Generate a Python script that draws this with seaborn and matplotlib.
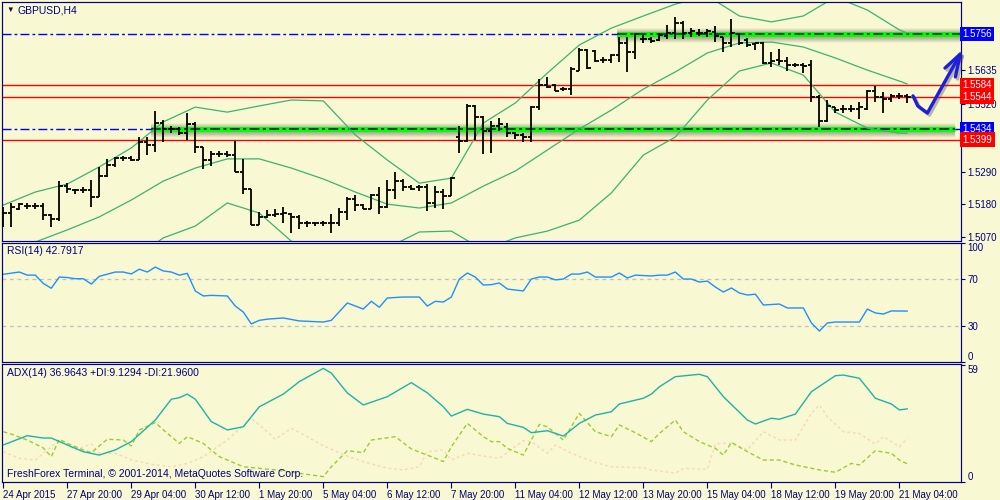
import numpy as np
import pandas as pd
import matplotlib
matplotlib.use('Agg')
import matplotlib.pyplot as plt
import matplotlib.transforms as mtransforms
import seaborn as sns

# GBPUSD H4 bars, 24 Apr - 21 May 2015
opens = [1.5144, 1.5151, 1.5165, 1.5175, 1.5175, 1.5175, 1.5144, 1.5131, 1.5242, 1.5229,
         1.5229, 1.5229, 1.5205, 1.5276, 1.5313, 1.5337, 1.5337, 1.5330, 1.5391, 1.5381,
         1.5455, 1.5435, 1.5435, 1.5421, 1.5452, 1.5374, 1.5330, 1.5350, 1.5350, 1.5347,
         1.5290, 1.5232, 1.5111, 1.5138, 1.5144, 1.5148, 1.5148, 1.5138, 1.5117, 1.5117,
         1.5117, 1.5117, 1.5117, 1.5154, 1.5198, 1.5178, 1.5165, 1.5212, 1.5171, 1.5229,
         1.5259, 1.5239, 1.5239, 1.5239, 1.5185, 1.5222, 1.5209, 1.5408, 1.5394, 1.5513,
         1.5476, 1.5428, 1.5445, 1.5442, 1.5421, 1.5415, 1.5408, 1.5509, 1.5584, 1.5584,
         1.5570, 1.5570, 1.5631, 1.5702, 1.5699, 1.5668, 1.5668, 1.5685, 1.5726, 1.5695,
         1.5739, 1.5739, 1.5736, 1.5749, 1.5759, 1.5793, 1.5759, 1.5759, 1.5759, 1.5763,
         1.5746, 1.5726, 1.5756, 1.5736, 1.5722, 1.5726, 1.5658, 1.5668, 1.5665, 1.5651,
         1.5651, 1.5651, 1.5543, 1.5462, 1.5509, 1.5503, 1.5503, 1.5503, 1.5503, 1.5563,
         1.5543, 1.5536, 1.5547, 1.5547]
highs = [1.5171, 1.5185, 1.5185, 1.5185, 1.5185, 1.5185, 1.5148, 1.5259, 1.5252, 1.5232,
         1.5239, 1.5263, 1.5307, 1.5334, 1.5340, 1.5344, 1.5344, 1.5408, 1.5408, 1.5496,
         1.5465, 1.5445, 1.5442, 1.5489, 1.5459, 1.5374, 1.5361, 1.5361, 1.5361, 1.5394,
         1.5334, 1.5232, 1.5154, 1.5161, 1.5165, 1.5171, 1.5151, 1.5144, 1.5124, 1.5121,
         1.5124, 1.5148, 1.5168, 1.5205, 1.5212, 1.5181, 1.5215, 1.5239, 1.5263, 1.5290,
         1.5266, 1.5246, 1.5246, 1.5249, 1.5242, 1.5232, 1.5273, 1.5445, 1.5519, 1.5516,
         1.5479, 1.5462, 1.5472, 1.5455, 1.5425, 1.5421, 1.5513, 1.5604, 1.5611, 1.5587,
         1.5577, 1.5645, 1.5709, 1.5705, 1.5702, 1.5678, 1.5688, 1.5746, 1.5746, 1.5759,
         1.5753, 1.5746, 1.5759, 1.5787, 1.5814, 1.5800, 1.5776, 1.5773, 1.5773, 1.5783,
         1.5746, 1.5807, 1.5759, 1.5743, 1.5726, 1.5729, 1.5695, 1.5705, 1.5678, 1.5658,
         1.5658, 1.5668, 1.5550, 1.5533, 1.5509, 1.5516, 1.5516, 1.5526, 1.5567, 1.5580,
         1.5560, 1.5553, 1.5557, 1.5553]
lows = [1.5104, 1.5104, 1.5161, 1.5165, 1.5165, 1.5127, 1.5104, 1.5124, 1.5219, 1.5215,
        1.5219, 1.5171, 1.5205, 1.5273, 1.5307, 1.5327, 1.5327, 1.5330, 1.5347, 1.5357,
        1.5391, 1.5421, 1.5415, 1.5398, 1.5354, 1.5300, 1.5310, 1.5340, 1.5340, 1.5290,
        1.5215, 1.5111, 1.5111, 1.5134, 1.5138, 1.5117, 1.5083, 1.5097, 1.5104, 1.5107,
        1.5107, 1.5083, 1.5107, 1.5127, 1.5158, 1.5165, 1.5165, 1.5148, 1.5168, 1.5198,
        1.5225, 1.5229, 1.5225, 1.5158, 1.5168, 1.5165, 1.5209, 1.5354, 1.5391, 1.5398,
        1.5350, 1.5354, 1.5428, 1.5408, 1.5401, 1.5391, 1.5391, 1.5499, 1.5574, 1.5563,
        1.5563, 1.5550, 1.5631, 1.5638, 1.5661, 1.5658, 1.5658, 1.5661, 1.5628, 1.5672,
        1.5726, 1.5726, 1.5732, 1.5739, 1.5739, 1.5739, 1.5746, 1.5749, 1.5746, 1.5729,
        1.5695, 1.5712, 1.5719, 1.5712, 1.5702, 1.5655, 1.5645, 1.5651, 1.5631, 1.5645,
        1.5624, 1.5526, 1.5442, 1.5459, 1.5489, 1.5489, 1.5492, 1.5469, 1.5499, 1.5526,
        1.5489, 1.5526, 1.5536, 1.5523]
closes = [1.5151, 1.5171, 1.5181, 1.5175, 1.5175, 1.5144, 1.5131, 1.5242, 1.5232, 1.5229,
          1.5229, 1.5205, 1.5276, 1.5313, 1.5337, 1.5337, 1.5330, 1.5391, 1.5381, 1.5455,
          1.5435, 1.5435, 1.5421, 1.5452, 1.5374, 1.5330, 1.5350, 1.5350, 1.5347, 1.5290,
          1.5232, 1.5111, 1.5138, 1.5144, 1.5148, 1.5151, 1.5138, 1.5117, 1.5117, 1.5117,
          1.5117, 1.5117, 1.5154, 1.5198, 1.5178, 1.5165, 1.5212, 1.5171, 1.5229, 1.5259,
          1.5239, 1.5232, 1.5239, 1.5185, 1.5222, 1.5209, 1.5269, 1.5394, 1.5513, 1.5476,
          1.5428, 1.5445, 1.5452, 1.5421, 1.5415, 1.5408, 1.5509, 1.5584, 1.5577, 1.5563,
          1.5570, 1.5638, 1.5702, 1.5641, 1.5665, 1.5668, 1.5685, 1.5726, 1.5695, 1.5756,
          1.5739, 1.5732, 1.5753, 1.5759, 1.5793, 1.5759, 1.5766, 1.5759, 1.5766, 1.5749,
          1.5726, 1.5759, 1.5726, 1.5719, 1.5726, 1.5658, 1.5665, 1.5665, 1.5651, 1.5651,
          1.5648, 1.5543, 1.5462, 1.5513, 1.5499, 1.5503, 1.5503, 1.5509, 1.5563, 1.5543,
          1.5536, 1.5547, 1.5547, 1.5543]

# Bollinger bands, read every 4th bar
band_idx = [0, 4, 8, 12, 16, 20, 24, 28, 32, 36, 40, 44, 48, 52, 56, 60, 64, 68, 72, 76,
            80, 84, 88, 92, 96, 100, 104, 108, 112, 113]
bb_upper = [1.5178, 1.5222, 1.5249, 1.5307, 1.5371, 1.5459, 1.5509, 1.5492, 1.5513, 1.5533,
            1.5530, 1.5415, 1.5330, 1.5252, 1.5269, 1.5455, 1.5523, 1.5624, 1.5719, 1.5776,
            1.5817, 1.5857, 1.5885, 1.5817, 1.5797, 1.5817, 1.5881, 1.5837, 1.5770, 1.5759]
bb_middle = [1.5019, 1.5053, 1.5094, 1.5138, 1.5195, 1.5259, 1.5303, 1.5334, 1.5334, 1.5303,
             1.5266, 1.5222, 1.5181, 1.5168, 1.5185, 1.5242, 1.5293, 1.5364, 1.5435, 1.5499,
             1.5570, 1.5628, 1.5692, 1.5726, 1.5729, 1.5712, 1.5675, 1.5634, 1.5597, 1.5587]
bb_lower = [1.4990, 1.4990, 1.4990, 1.4990, 1.4990, 1.5067, 1.5107, 1.5185, 1.5151, 1.5056,
            1.4999, 1.4985, 1.5033, 1.5087, 1.5090, 1.5026, 1.5067, 1.5090, 1.5127, 1.5219,
            1.5347, 1.5408, 1.5533, 1.5631, 1.5658, 1.5617, 1.5492, 1.5438, 1.5421, 1.5421]

rsi_idx = [0, 2, 3, 4, 5, 6, 7, 8, 9, 10, 11, 12, 14, 15, 16, 17, 18, 19, 20, 21,
           22, 23, 24, 25, 26, 28, 29, 30, 31, 32, 33, 35, 37, 40, 41, 43, 45, 46, 47, 48,
           50, 52, 53, 54, 55, 56, 57, 58, 59, 60, 61, 62, 63, 65, 66, 67, 68, 69, 70, 71,
           72, 73, 74, 76, 77, 78, 79, 81, 82, 83, 84, 85, 86, 87, 88, 89, 90, 91, 92, 93,
           94, 95, 97, 98, 100, 101, 102, 103, 104, 107, 108, 109, 110, 111, 113]
rsi_vals = [73.7, 75.6, 73, 73, 66, 62, 71.4, 71, 70, 70, 65.5, 72, 75.6, 75.6, 74, 78, 75.6, 79.8, 76.5, 75.6,
            73, 74.5, 59.7, 55.5, 56, 55.5, 47, 42, 32, 35, 36, 37, 34.5, 33.6, 35, 49.6, 44.5, 51, 46, 53.8,
            54.6, 54.6, 47, 51, 50.4, 54.6, 69.7, 74.8, 71.4, 64.7, 65, 66.4, 61.3, 59.7, 69.7, 71.4, 71.4, 69, 69.7, 73.9,
            73.9, 75.6, 71.4, 71.4, 74.8, 70.6, 73, 72.3, 73, 73, 75.6, 69.7, 69.7, 67.2, 68, 63, 58.8, 62.2, 58, 56.3,
            57, 47.9, 48.7, 45.4, 45.4, 32.8, 26, 32.8, 33.6, 33.6, 44.5, 41.2, 40.3, 42.9, 42.79]

adx_idx = [0, 3, 5, 6, 8, 10, 12, 14, 16, 19, 21, 22, 23, 24, 26, 28, 30, 32, 35, 37,
           40, 41, 43, 45, 48, 51, 53, 55, 56, 58, 60, 62, 63, 65, 66, 68, 70, 72, 74, 76,
           77, 80, 81, 82, 84, 87, 88, 90, 93, 94, 96, 97, 99, 101, 104, 105, 107, 109, 111, 112, 113]
adx_vals = [18.7, 23.4, 22.2, 22.2, 18.7, 15.3, 13.6, 16.2, 20.4, 31.3, 41.8, 42.6, 44.4, 41.8, 30.5, 26.3, 27.9, 38, 44.4, 50.7,
            57.4, 55, 45, 38.9, 43.1, 50.2, 45, 38, 33.3, 36.7, 34.3, 33, 29.6, 27.6, 24.9, 25.9, 23.2, 29.6, 33.8, 35.5,
            39.4, 42.3, 44.4, 48.1, 53.2, 54.4, 53.2, 43.1, 31.3, 29.3, 32.2, 31.7, 34.3, 45.6, 53.7, 54, 52.4, 42.3, 39.4, 36.4, 36.96]

pdi_idx = [0, 1, 3, 5, 6, 7, 8, 10, 11, 13, 15, 16, 17, 19, 20, 22, 23, 25, 27, 30,
           34, 37, 40, 41, 43, 45, 46, 49, 51, 54, 55, 56, 58, 60, 61, 62, 63, 65, 66, 67,
           68, 70, 72, 74, 76, 77, 79, 81, 82, 84, 85, 87, 89, 90, 91, 93, 95, 97, 99, 102,
           104, 106, 107, 109, 111, 112, 113]
pdi_vals = [25.4, 24.2, 21.2, 17.2, 12.8, 21.6, 19.5, 16.2, 14.8, 21.6, 21.2, 18.2, 26.3, 30, 26.3, 19.5, 22.9, 19.5, 12.8, 7.7,
            6.1, 4.4, 2.7, 7.7, 15.8, 14.8, 21.2, 22.9, 16.7, 12, 10.3, 17.8, 29.6, 22.9, 20.4, 20.4, 17, 13.6, 21.2, 29.1,
            27.9, 21.2, 34.7, 25.4, 22.9, 28.8, 24.9, 20.4, 24.5, 31.3, 25.4, 20.4, 17, 13.6, 20, 15.3, 11.1, 11.1, 8.6, 6.1,
            4.9, 9.4, 8.6, 15.8, 14.5, 11.1, 9.13]

mdi_idx = [0, 2, 4, 5, 7, 9, 11, 12, 14, 16, 19, 21, 23, 25, 28, 31, 33, 34, 36, 38,
           40, 43, 45, 48, 50, 52, 53, 55, 56, 58, 60, 62, 65, 66, 68, 69, 71, 74, 76, 80,
           81, 84, 85, 88, 89, 91, 93, 95, 97, 99, 101, 102, 103, 105, 107, 109, 110, 112, 113]
mdi_vals = [15.3, 12, 11.1, 14.5, 21.2, 16.2, 19.2, 14.5, 14.5, 11.1, 8.6, 7.7, 9.4, 12.8, 21.2, 32.2, 25.4, 21.6, 27.1, 22.9,
            18.3, 13.1, 10.3, 7, 6.1, 7.7, 15.3, 16.2, 11.1, 14.5, 13.1, 12, 20.9, 20.4, 14.5, 18.7, 14.5, 9.8, 7.7, 7.2,
            6.1, 4.4, 6.9, 6.4, 19.2, 19.8, 16.2, 25.4, 21.2, 21.2, 34.7, 38.9, 33, 25.4, 24.5, 19.2, 22.9, 17.8, 21.96]

date_labels = ['24 Apr 2015', '27 Apr 20:00', '29 Apr 04:00', '30 Apr 12:00', '1 May 20:00',
               '5 May 04:00', '6 May 12:00', '7 May 20:00', '11 May 04:00', '12 May 12:00',
               '13 May 20:00', '15 May 04:00', '18 May 12:00', '19 May 20:00', '21 May 04:00']
price_ticks = [1.5070, 1.5180, 1.5290, 1.5520, 1.5635]

support_levels = [1.5756, 1.5434]      # blue dash-dot, green zone
support_from = [76.7, 18.5]            # bar index where the green zone starts
support_to = [119.7, 119.0]
resist_levels = [1.5584, 1.5544, 1.5399]

arrow_x = [113.7, 114.3, 115.5, 119.6]
arrow_y = [1.5547, 1.5513, 1.5489, 1.5688]
head_x = [117.7, 119.6, 119.0]
head_y = [1.5641, 1.5688, 1.5611]

BG = '#F8F8D3'
NAVY = '#000080'
PX = 0.000338  # price per pixel on the main panel

sns.set_theme(style='white')
plt.rcParams['font.family'] = ['Liberation Sans', 'DejaVu Sans']

fig = plt.figure(figsize=(10, 5), dpi=100, facecolor=BG)
ax_p = fig.add_axes([0.002, 0.518, 0.959, 0.478])
ax_r = fig.add_axes([0.002, 0.276, 0.959, 0.238])
ax_a = fig.add_axes([0.002, 0.036, 0.959, 0.236])

for ax in (ax_p, ax_r, ax_a):
    ax.set_facecolor(BG)
    for s in ax.spines.values():
        s.set_color(NAVY)
        s.set_linewidth(0.85)
    ax.set_xlim(-0.16, 119.7)
    ax.yaxis.tick_right()
    ax.tick_params(axis='y', length=3, width=0.8, pad=1.5, labelsize=7,
                   colors=NAVY, right=True, left=False)

# ---- main price panel ----
ax_p.set_ylim(1.50565, 1.58642)
ax_p.set_yticks(price_ticks, labels=['%.4f' % v for v in price_ticks])
ax_p.set_xticks([])

for lv in support_levels:
    ax_p.axhline(lv, color='#0000FF', lw=1, ls=(0, (6.5, 2.2, 2, 2.2)), zorder=1.2)
for lv in resist_levels:
    ax_p.axhline(lv, color='#FF0000', lw=1, zorder=1.2)

for lv, x0, x1 in zip(support_levels, support_from, support_to):
    for k in range(1, 9):
        ax_p.hlines(lv - k * PX, x0, x1, color='#3a3a28', alpha=0.45 * (1 - k / 9),
                    lw=1.1, zorder=1.3)
    for k in range(1, 6):
        ax_p.hlines(lv + k * PX, x0, x1, color='#3a3a28', alpha=0.32 * (1 - k / 6),
                    lw=1.1, zorder=1.3)
    ax_p.hlines(lv, x0, x1, color='#00FF00', lw=3.6, zorder=1.4)
    ax_p.hlines(lv, x0, x1, color='#10104a', lw=1.1,
                linestyles=[(0, (6.5, 2.2, 2, 2.2))], zorder=1.5)

for band in (bb_upper, bb_middle, bb_lower):
    sns.lineplot(x=band_idx, y=band, ax=ax_p, color='#3CB371', lw=0.9, zorder=1.6)

bars = pd.DataFrame({'i': np.arange(len(closes)), 'open': opens, 'high': highs,
                     'low': lows, 'close': closes})
ax_p.vlines(bars['i'], bars['low'], bars['high'], color='black', lw=1.3, zorder=3)
ax_p.hlines(bars['open'], bars['i'] - 0.42, bars['i'], color='black', lw=1.3, zorder=3)
ax_p.hlines(bars['close'], bars['i'], bars['i'] + 0.42, color='black', lw=1.3, zorder=3)

# hand-drawn forecast arrow
shadow = mtransforms.offset_copy(ax_p.transData, fig=fig, x=1.5, y=-1.5, units='points')
for tr, col, al in ((shadow, '#404040', 0.35), (ax_p.transData, '#1E1EDC', 1.0)):
    ax_p.plot(arrow_x, arrow_y, color=col, alpha=al, lw=2.4, transform=tr,
              solid_capstyle='round', solid_joinstyle='round', clip_on=False, zorder=4)
    ax_p.plot(head_x, head_y, color=col, alpha=al, lw=2.4, transform=tr,
              solid_capstyle='round', solid_joinstyle='round', clip_on=False, zorder=4)

# price boxes on the right scale
blend = mtransforms.blended_transform_factory(ax_p.transAxes, ax_p.transData)
for lv in support_levels + resist_levels:
    fc = '#0000FF' if lv in support_levels else '#FF0000'
    ax_p.text(1.0015, lv, '%.4f' % lv, transform=blend, color='white', fontsize=7,
              va='center', ha='left', clip_on=False, zorder=6,
              bbox=dict(boxstyle='square,pad=0.24', fc=fc, ec='none'))

# ---- RSI panel ----
ax_r.set_ylim(0, 100)
ax_r.set_xticks([])
for lv in (70, 30):
    ax_r.axhline(lv, color='#C0C0C0', lw=0.9, ls=(0, (3, 3)), zorder=1)
sns.lineplot(x=rsi_idx, y=rsi_vals, ax=ax_r, color='#1E90FF', lw=1.0, zorder=2)
ax_r.set_yticks([0, 30, 70, 100], labels=['0', '30', '70', '100'])
rl = ax_r.get_yticklabels()
rl[0].set_va('bottom')
rl[-1].set_va('top')

# ---- ADX panel ----
ax_a.set_ylim(0, 59.6)
sns.lineplot(x=mdi_idx, y=mdi_vals, ax=ax_a, color='#F7D8B4', lw=1.0,
             linestyle=(0, (2, 2)), zorder=1)
sns.lineplot(x=pdi_idx, y=pdi_vals, ax=ax_a, color='#9ACD32', lw=1.0,
             linestyle=(0, (3, 2)), zorder=2)
sns.lineplot(x=adx_idx, y=adx_vals, ax=ax_a, color='#20B2AA', lw=1.0, zorder=3)
ax_a.set_yticks([0, 59], labels=['0', '59'])
al = ax_a.get_yticklabels()
al[0].set_va('bottom')
al[-1].set_va('top')
ax_a.set_xticks(np.arange(0, 113, 8), labels=date_labels)
ax_a.tick_params(axis='x', length=4, width=0.8, pad=1.5, labelsize=7, colors=NAVY,
                 bottom=True)
for t in ax_a.get_xticklabels():
    t.set_ha('left')

for ax in (ax_p, ax_r, ax_a):
    ax.set_xlabel('')
    ax.set_ylabel('')

# panel captions
fig.text(0.006, 0.979, '\u25bc', fontsize=5.5, color='#101040', va='center')
fig.text(0.018, 0.979, 'GBPUSD,H4', fontsize=7.5, color=NAVY, va='center')
fig.text(0.007, 0.497, 'RSI(14) 42.7917', fontsize=7.5, color=NAVY, va='center')
fig.text(0.007, 0.254, 'ADX(14) 36.9643 +DI:9.1294 -DI:21.9600', fontsize=7.5,
         color=NAVY, va='center')
fig.text(0.007, 0.052, 'FreshForex Terminal, \u00a9 2001-2014, MetaQuotes Software Corp.',
         fontsize=7.5, color=NAVY, va='center')

fig.savefig('out.png', dpi=100, facecolor=BG)
